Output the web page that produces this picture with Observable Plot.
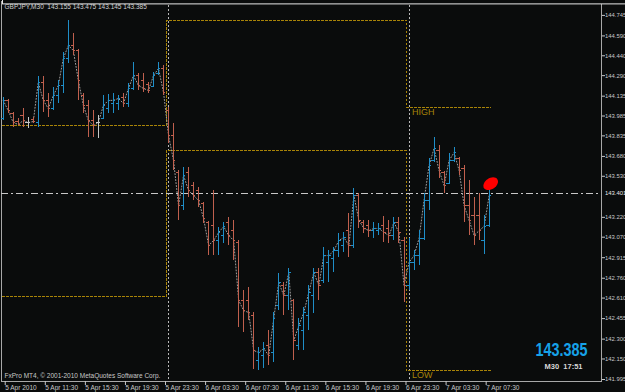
<!DOCTYPE html>
<html><head><meta charset="utf-8">
<script src="https://cdn.jsdelivr.net/npm/d3@7"></script>
<script src="https://cdn.jsdelivr.net/npm/@observablehq/plot@0.6"></script>
<style>
html,body{margin:0;padding:0;background:#0a0c0c;overflow:hidden}
svg{display:block}
</style></head><body><div id="chart"></div>
<script>
// GBPJPY M30 bars, index 0 = 5 Apr 2010 07:30, one bar per 30 minutes
const open = [
143.966,144.103,144.004,143.943,143.989,143.936,143.958,143.936,144.239,144.103,
144.042,144.140,144.216,144.420,144.518,144.480,144.140,144.065,143.951,143.936,
143.966,144.042,144.080,144.080,144.125,144.080,144.193,144.291,144.254,144.224,
144.208,144.306,144.344,144.027,143.838,143.559,143.309,143.559,143.460,143.423,
143.324,143.181,143.158,143.045,143.083,143.181,143.120,143.030,142.592,142.592,
142.478,142.138,142.176,142.251,142.199,142.554,142.705,142.629,142.592,142.251,
142.365,142.478,142.629,142.803,142.743,142.879,142.909,142.969,143.007,143.120,
143.007,143.385,143.181,143.158,143.120,143.120,143.158,143.136,143.083,143.181,
143.045,142.705,142.879,142.931,143.060,143.347,143.649,143.725,143.559,143.475,
143.649,143.664,143.589,143.309,143.234,143.234,143.045,143.155];
const high = [
144.125,144.110,144.010,143.966,144.042,143.974,143.974,144.284,144.284,144.155,
144.201,144.254,144.465,144.707,144.609,144.488,144.155,144.103,144.027,143.989,
144.140,144.148,144.155,144.140,144.155,144.231,144.390,144.306,144.306,144.239,
144.314,144.390,144.367,144.050,143.928,143.574,143.596,143.596,143.483,143.445,
143.330,143.188,143.423,143.143,143.181,143.219,143.196,143.045,142.667,142.690,
142.501,142.236,142.274,142.365,142.501,142.796,142.728,142.833,142.600,142.455,
142.539,142.705,142.833,142.833,142.992,142.969,142.992,143.098,143.105,143.249,
143.438,143.400,143.196,143.196,143.181,143.173,143.226,143.196,143.219,143.219,
143.068,143.060,142.969,143.120,143.400,143.664,143.823,143.762,143.566,143.702,
143.747,143.670,143.611,143.498,143.370,143.400,143.234,143.475];
const low = [
143.951,144.004,143.898,143.913,143.898,143.891,143.928,143.898,144.012,143.974,
144.027,144.080,144.155,144.382,144.442,144.103,144.004,143.823,143.823,143.815,
143.960,144.004,144.004,144.027,144.050,144.050,144.178,144.178,144.163,144.155,
144.201,144.291,144.140,143.777,143.574,143.196,143.271,143.370,143.347,143.294,
143.173,142.931,142.931,142.931,143.022,143.007,142.894,142.388,142.350,142.440,
142.070,142.063,142.078,142.100,142.123,142.516,142.478,142.516,142.138,142.214,
142.214,142.365,142.493,142.592,142.720,142.728,142.803,142.916,142.954,142.916,
142.984,143.136,143.098,143.068,143.060,143.083,143.030,143.022,143.045,143.022,
142.576,142.667,142.818,142.856,143.045,143.271,143.634,143.513,143.400,143.468,
143.634,143.536,143.181,143.083,143.007,143.045,142.939,143.145];
const close = [
144.103,144.027,143.936,143.921,143.951,143.936,143.943,144.239,144.103,144.042,
144.140,144.216,144.420,144.518,144.480,144.254,144.065,143.951,143.913,143.936,
144.065,144.103,144.103,144.118,144.080,144.193,144.291,144.216,144.193,144.178,
144.291,144.344,144.163,143.838,143.649,143.309,143.536,143.423,143.385,143.347,
143.211,143.007,143.045,143.105,143.151,143.083,143.045,142.592,142.516,142.501,
142.214,142.199,142.229,142.176,142.455,142.728,142.629,142.803,142.289,142.403,
142.501,142.652,142.803,142.705,142.931,142.931,142.969,143.045,143.068,143.007,
143.385,143.196,143.136,143.120,143.136,143.136,143.105,143.083,143.181,143.105,
142.705,142.879,142.931,143.060,143.347,143.611,143.740,143.574,143.460,143.649,
143.709,143.574,143.309,143.196,143.083,143.120,143.151,143.385];

// time axis
const xTickIdx = [0,8,16,24,32,40,48,56,64,72,80,88,96];
const xTickLabels = ["5 Apr 2010","5 Apr 11:30","5 Apr 15:30","5 Apr 19:30","5 Apr 23:30",
  "6 Apr 03:30","6 Apr 07:30","6 Apr 11:30","6 Apr 15:30","6 Apr 19:30","6 Apr 23:30",
  "7 Apr 03:30","7 Apr 07:30"];
const separatorIdx = [33, 81];   // 6 Apr 00:00, 7 Apr 00:00

// price axis
const yTicks = [144.745,144.590,144.440,144.290,144.135,143.985,143.835,143.680,143.530,
  143.220,143.070,142.915,142.760,142.610,142.455,142.300,142.150,141.995];

// previous-day high / low levels
const dayStart = [-1, 32.6, 80.4];
const dayEnd = 97.2;
const prevHigh = [143.913, 144.707, 144.050];
const prevLow  = [142.622, 143.725, 142.063];

// horizontal line and signal
const hLine = [143.401];
const signalIdx = [97.3];
const signalPrice = [143.474];

const titleText = "GBPJPY,M30  143.155 143.475 143.145 143.385";
const footerText = "FxPro MT4, \u00a9 2001-2010 MetaQuotes Software Corp.";
const bidText = "143.385";
const timerText = "M30  17:51";

const bars = open.map((o, i) => ({i, open: o, high: high[i], low: low[i], close: close[i]}));
const upBars = bars.filter(d => d.close > d.open);
const downBars = bars.filter(d => d.close < d.open);
const flatBars = bars.filter(d => d.close === d.open);

const BLUE = "#1f8ec8", RED = "#c0604e", FLAT = "#c8c8c8", GOLD = "#a88408";
const barMarks = (data, color) => [
  Plot.ruleX(data, {x: "i", y1: "low", y2: "high", stroke: color, shapeRendering: "crispEdges", clip: true}),
  Plot.ruleY(data, {y: "open", x1: d => d.i - 0.45, x2: "i", stroke: color, shapeRendering: "crispEdges", clip: true}),
  Plot.ruleY(data, {y: "close", x1: "i", x2: d => d.i + 0.45, stroke: color, shapeRendering: "crispEdges", clip: true})
];

const hiPts = dayStart.map((x, k) => ({x, p: prevHigh[k]})).concat([{x: dayEnd, p: prevHigh[prevHigh.length - 1]}]);
const loPts = dayStart.map((x, k) => ({x, p: prevLow[k]})).concat([{x: dayEnd, p: prevLow[prevLow.length - 1]}]);

const ellipse = {
  draw(ctx) {
    const rx = 8, ry = 5.5, a = -0.6;
    for (let k = 0; k <= 32; k++) {
      const t = k / 32 * 2 * Math.PI;
      const x = rx * Math.cos(t), y = ry * Math.sin(t);
      const X = x * Math.cos(a) - y * Math.sin(a), Y = x * Math.sin(a) + y * Math.cos(a);
      if (k === 0) ctx.moveTo(X, Y); else ctx.lineTo(X, Y);
    }
    ctx.closePath();
  }
};

const chart = Plot.plot({
  width: 625, height: 392,
  marginLeft: 1, marginRight: 24, marginTop: 1, marginBottom: 11,
  x: {domain: [-0.34, 119.42]},
  y: {domain: [141.980, 144.850]},
  style: {background: "#0a0c0c", color: "#c8c8c8", fontFamily: "'Liberation Sans', Arial, sans-serif", fontSize: "6.5px"},
  marks: [
    Plot.frame({stroke: "#a8a8a8", shapeRendering: "crispEdges"}),
    Plot.ruleX(separatorIdx, {x: d => d, stroke: "#b8b8b8", strokeDasharray: "2,2", shapeRendering: "crispEdges"}),
    Plot.line(hiPts, {x: "x", y: "p", curve: "step-after", stroke: GOLD, strokeWidth: 1, strokeDasharray: "2,2", shapeRendering: "crispEdges", clip: true}),
    Plot.line(loPts, {x: "x", y: "p", curve: "step-after", stroke: GOLD, strokeWidth: 1, strokeDasharray: "2,2", shapeRendering: "crispEdges", clip: true}),
    Plot.text(["HIGH"], {x: dayStart[2], y: prevHigh[2], dx: 6, dy: 1, textAnchor: "start", lineAnchor: "top", fill: GOLD, fontSize: 9}),
    Plot.text(["LOW"], {x: dayStart[2], y: prevLow[2], dx: 6, dy: 1, textAnchor: "start", lineAnchor: "top", fill: GOLD, fontSize: 9}),
    Plot.ruleY(hLine, {y: d => d, stroke: "#c8c8c8", strokeDasharray: "7,3,2,3", shapeRendering: "crispEdges"}),
    Plot.line(bars, {x: "i", y: "close", stroke: "#a0a0a0", strokeDasharray: "1,2", strokeWidth: 1, clip: true}),
    ...barMarks(upBars, BLUE),
    ...barMarks(downBars, RED),
    ...barMarks(flatBars, FLAT),
    Plot.dot(signalIdx.map((x, k) => ({x, p: signalPrice[k]})), {x: "x", y: "p", symbol: ellipse, fill: "#ff0000", stroke: "none"}),
    Plot.text([titleText], {frameAnchor: "top-left", dx: 3, dy: 5.5, textAnchor: "start", lineAnchor: "middle", fill: "#d0d0d0"}),
    Plot.text([footerText], {frameAnchor: "bottom-left", dx: 3, dy: -6, textAnchor: "start", lineAnchor: "middle", fill: "#c8c8c8"}),
    Plot.text([bidText], {frameAnchor: "bottom-right", dx: -14, dy: -31, textAnchor: "end", lineAnchor: "middle", fill: "#16a2e8", fontSize: 18, fontWeight: "bold", className: "bignum"}),
    Plot.text([timerText], {frameAnchor: "bottom-right", dx: -19, dy: -14.5, textAnchor: "end", lineAnchor: "middle", fill: "#d8d8d8", fontSize: 7.5, fontWeight: "bold"}),
    Plot.axisY(yTicks, {anchor: "right", tickSize: 3, tickPadding: 0.5, fontSize: 5.9, tickFormat: d => d.toFixed(3), textAnchor: "start"}),
    Plot.text(hLine, {y: d => d, frameAnchor: "right", dx: 3.5, textAnchor: "start", fill: "#e8e8e8", fontSize: 5.9, text: d => d.toFixed(3), className: "pricelabel"}),
    Plot.axisX(xTickIdx, {anchor: "bottom", tickSize: 4, tickPadding: 0, textAnchor: "start", dx: 2, tickFormat: d => xTickLabels[xTickIdx.indexOf(d)]})
  ]
});
document.getElementById("chart").appendChild(chart);

d3.select(chart).selectAll(".bignum text").attr("textLength", 52).attr("lengthAdjust", "spacingAndGlyphs");
d3.select(chart).selectAll(".pricelabel text").each(function() {
  const b = this.getBBox();
  d3.select(this.parentNode).insert("rect", () => this)
    .attr("x", b.x - 1.5).attr("y", b.y - 0.5).attr("width", 625 - b.x).attr("height", b.height + 1)
    .attr("fill", "#0a0c0c").attr("stroke", "#e8e8e8");
});
</script>
</body></html>
